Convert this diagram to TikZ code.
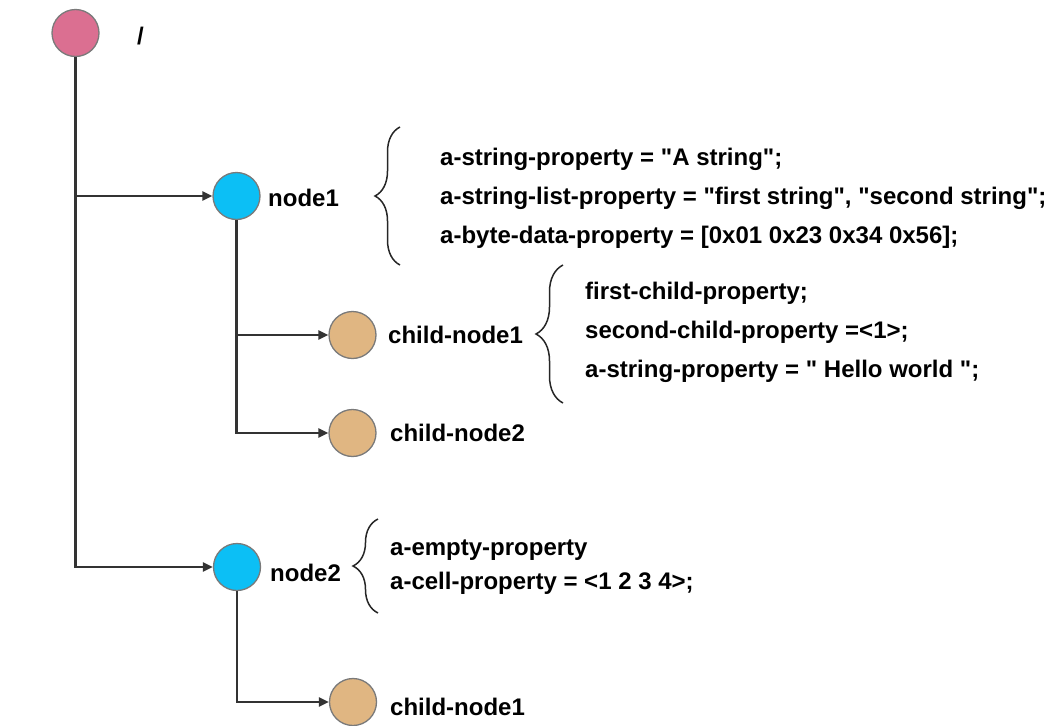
\documentclass[tikz,border=0pt]{standalone}
\usepackage{fontspec}
\setmainfont{Liberation Sans}[Ligatures=TeXOff]
\usetikzlibrary{arrows.meta,decorations.pathreplacing}
\definecolor{rootc}{HTML}{DB6F91}
\definecolor{nodec}{HTML}{0CBFF5}
\definecolor{childc}{HTML}{E0B682}
\definecolor{linec}{HTML}{333333}
\definecolor{rimc}{HTML}{7A7A7A}
\begin{document}
\begin{tikzpicture}[x=1pt,y=-1pt,
  dot/.style={circle,draw=rimc,line width=1.3pt,minimum size=47pt,inner sep=0pt},
  lbl/.style={anchor=west,font=\fontsize{24}{28}\selectfont\bfseries,inner sep=0pt},
  props/.style={anchor=west,align=left,inner sep=0pt,font=\fontsize{24}{39}\selectfont\bfseries},
  conn/.style={draw=linec,line width=2.3pt,-{Triangle[length=10pt,width=9pt]}},
  brc/.style={draw=black!85,line width=1.5pt,decorate,decoration={brace,amplitude=#1}}]
\useasboundingbox (0,0) rectangle (1053,726);
% nodes
\node[dot,fill=rootc]  (root) at (75.5,33) {};
\node[dot,fill=nodec]  (n1)   at (236.5,196) {};
\node[dot,fill=childc] (c11)  at (352.5,335) {};
\node[dot,fill=childc] (c12)  at (352.5,433) {};
\node[dot,fill=nodec]  (n2)   at (237,567) {};
\node[dot,fill=childc] (c21)  at (353,702) {};
% labels
\node[lbl] (lroot) at (137,36) {/};
\node[lbl] (ln1)   at (268,198) {node1};
\node[lbl] (lc11)  at (388,335) {child-node1};
\node[lbl] (lc12)  at (390,433) {child-node2};
\node[lbl] (ln2)   at (270,573) {node2};
\node[lbl] (lc21)  at (390,707) {child-node1};
% connectors
\path[conn] (root.south) |- (n1.west);
\path[conn] (root.south) |- (n2.west);
\path[conn] (n1.south) |- (c11.west);
\path[conn] (n1.south) |- (c12.west);
\path[conn] (n2.south) |- (c21.west);
% braces
\draw[brc=25pt] (400,265) -- (400,127);
\draw[brc=27pt] (563,403) -- (563,265);
\draw[brc=25pt] (378,613) -- (378,519);
% property blocks
\node[props] (p1) at (440,198) {a-string-property = "A string";\\a-string-list-property = "first string", "second string";\\a-byte-data-property = [0x01 0x23 0x34 0x56];};
\node[props] (p2) at (585,332) {first-child-property;\\second-child-property =<1>;\\a-string-property = " Hello world ";};
\node[props,font=\fontsize{24}{34}\selectfont\bfseries] (p3) at (390,567) {a-empty-property\\a-cell-property = <1 2 3 4>;};
\end{tikzpicture}
\end{document}
